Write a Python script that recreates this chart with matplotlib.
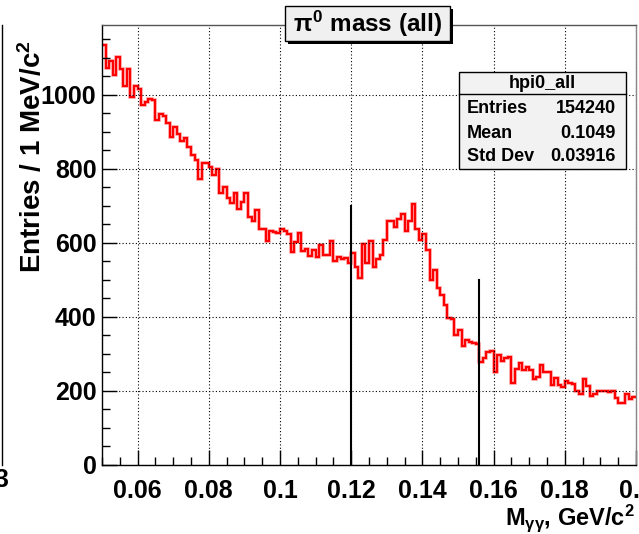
import numpy as np
import matplotlib
matplotlib.use('Agg')
import matplotlib.pyplot as plt
from matplotlib.patches import Rectangle
from matplotlib.lines import Line2D
from matplotlib.ticker import FixedLocator, FixedFormatter, MultipleLocator

plt.rcParams['font.family'] = ['Liberation Sans', 'DejaVu Sans']
plt.rcParams['font.weight'] = 'bold'
plt.rcParams['mathtext.fontset'] = 'custom'
plt.rcParams['mathtext.rm'] = 'Liberation Sans:bold'
plt.rcParams['mathtext.it'] = 'Liberation Sans:bold'
plt.rcParams['mathtext.bf'] = 'Liberation Sans:bold'

# histogram hpi0_all, 1 MeV bins from 0.05 to 0.2 GeV
x_lo = 0.05
bin_w = 0.001
counts = [
    1135, 1072, 1092, 1054, 1103, 1069, 1025, 1069, 995, 1025,
    1016, 973, 980, 989, 986, 932, 948, 942, 923, 887,
    914, 894, 876, 883, 860, 838, 824, 772, 817, 815,
    805, 784, 799, 734, 752, 721, 707, 736, 691, 710,
    736, 671, 658, 689, 637, 637, 606, 631, 630, 628,
    637, 632, 624, 576, 602, 628, 578, 583, 565, 581,
    563, 595, 568, 568, 606, 551, 561, 556, 558, 545,
    574, 536, 506, 597, 545, 605, 536, 557, 568, 608,
    660, 658, 643, 664, 678, 631, 659, 705, 637, 608,
    624, 581, 501, 527, 478, 458, 431, 396, 394, 350,
    364, 321, 337, 333, 330, 328, 278, 290, 305, 309,
    252, 297, 280, 288, 291, 221, 260, 275, 256, 265,
    257, 233, 239, 269, 250, 250, 216, 236, 217, 210,
    227, 222, 219, 200, 192, 232, 214, 186, 192, 201,
    200, 199, 196, 199, 180, 168, 168, 191, 177, 183,
]

# signal window markers
cut_x = [0.12, 0.156]
cut_h = [700, 500]

x_ticks = [0.06, 0.08, 0.1, 0.12, 0.14, 0.16, 0.18, 0.2]
x_labels = ['0.06', '0.08', '0.1', '0.12', '0.14', '0.16', '0.18', '0.2']
y_ticks = [0, 200, 400, 600, 800, 1000]

stats_names = ['Entries', 'Mean', 'Std Dev']
stats_vals = ['154240', '0.1049', '0.03916']

W, H = 639, 534
fig = plt.figure(figsize=(W / 100, H / 100), dpi=100)
ax = fig.add_axes([102 / W, 1 - 465 / H, (636 - 102) / W, (465 - 24.5) / H])

edges = x_lo + bin_w * np.arange(len(counts) + 1)
ax.stairs(counts, edges, baseline=None, color='#ffb0b0', lw=2.6)
ax.stairs(counts, edges, baseline=None, color='#ff0000', lw=1.6)

for cx, ch in zip(cut_x, cut_h):
    ax.plot([cx, cx], [0, ch], color='black', lw=1.5)

ax.set_xlim(0.05, 0.2)
ax.set_ylim(0, 1190)

ax.xaxis.set_major_locator(FixedLocator(x_ticks))
ax.xaxis.set_major_formatter(FixedFormatter(x_labels))
ax.xaxis.set_minor_locator(MultipleLocator(0.005))
ax.yaxis.set_major_locator(FixedLocator(y_ticks))
ax.yaxis.set_minor_locator(MultipleLocator(50))
ax.tick_params(which='both', direction='in', top=False, right=False, labelsize=18, width=1)
ax.tick_params(which='major', length=11)
ax.tick_params(which='minor', length=5.5)
ax.tick_params(axis='x', pad=10)
ax.tick_params(axis='y', pad=4)
ax.grid(True, which='major', color='black', linestyle=(0, (1, 2)), lw=0.8)
for s in ax.spines.values():
    s.set_linewidth(1.0)
ax.spines['top'].set_color('#555555')
ax.spines['right'].set_color('#888888')

# axis titles
fig.text(33 / W, 1 - 40 / H, 'Entries / 1 MeV/c$^{2}$', rotation=90,
         ha='center', va='top', fontsize=20)
fig.text(635 / W, 1 - 518 / H, r'M$_{\gamma\gamma}$, GeV/c$^{2}$',
         ha='right', va='center', fontsize=17)

# title box with shadow
def fig_rect(x0, y0, x1, y1, **kw):
    r = Rectangle((x0 / W, 1 - y1 / H), (x1 - x0) / W, (y1 - y0) / H,
                  transform=fig.transFigure, **kw)
    fig.patches.append(r)

fig_rect(288, 9, 453, 44, fc='black', ec='none')
fig_rect(285, 6, 450, 41, fc='#f0f0f0', ec='black', lw=1)
fig.text(367.5 / W, 1 - 24 / H, r'$\pi^{0}$ mass (all)', ha='center', va='center', fontsize=17.5)

# stats box
fig_rect(459, 72, 626, 169, fc='#f2f2f2', ec='black', lw=1)
fig.lines.append(Line2D([459 / W, 626 / W], [1 - 94.5 / H, 1 - 94.5 / H],
                        transform=fig.transFigure, color='black', lw=1))
fig.text(542.5 / W, 1 - 83 / H, 'hpi0_all', ha='center', va='center', fontsize=13)
row_y = [109, 133, 157]
for name, val, ry in zip(stats_names, stats_vals, row_y):
    fig.text(467 / W, 1 - ry / H, name, ha='left', va='center', fontsize=13)
    fig.text(616 / W, 1 - ry / H, val, ha='right', va='center', fontsize=13)

# edge of neighbouring pad
fig.lines.append(Line2D([2 / W, 2 / W], [1 - 25 / H, 1 - 465 / H],
                        transform=fig.transFigure, color='black', lw=1))
fig.text(-6 / W, 1 - 480 / H, '3', ha='left', va='center', fontsize=18)

fig.savefig('out.png', dpi=100)
